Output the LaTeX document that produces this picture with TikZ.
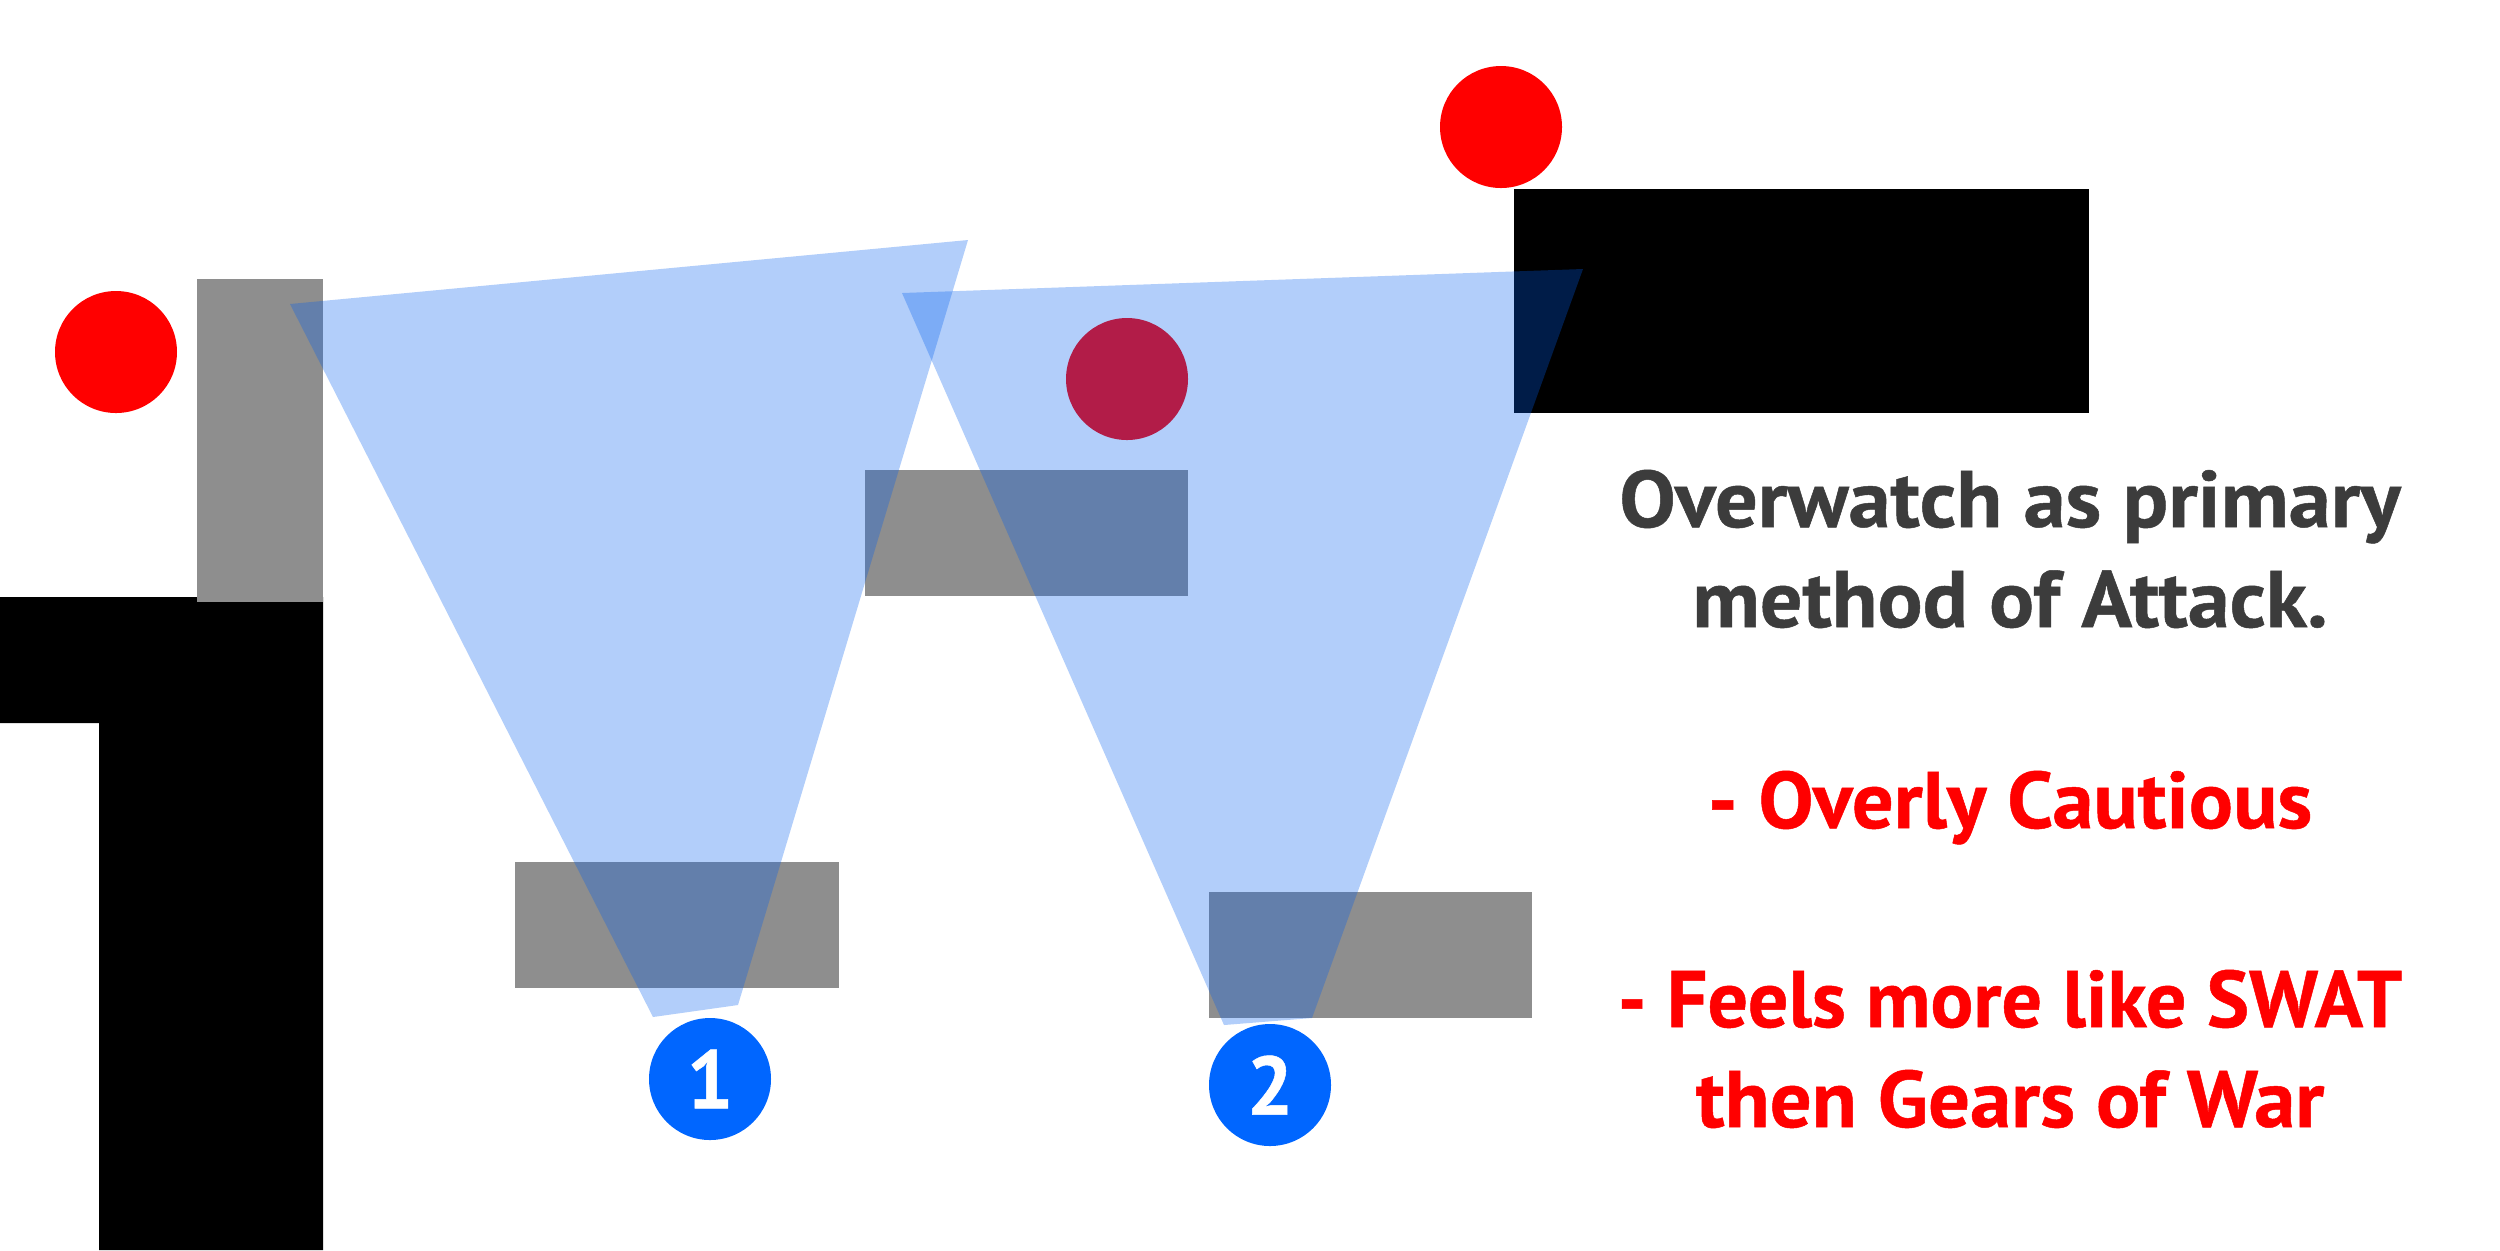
\documentclass[tikz,border=0pt]{standalone}
\usepackage{fontspec}
\setmainfont{PT Sans}[BoldFeatures={FakeBold=0.6}]
\definecolor{wallgray}{RGB}{142,142,142}
\definecolor{conebase}{RGB}{0,95,240}
\definecolor{badge}{RGB}{0,102,255}
\definecolor{textgray}{RGB}{60,60,60}
\definecolor{alertred}{RGB}{255,0,0}
\newcommand{\fitw}[2]{\resizebox{#1}{\height}{#2}}
\tikzset{
  wall/.style={fill=wallgray, draw=none},
  solid block/.style={fill=black, draw=none},
  enemy/.style={fill=alertred, draw=none},
  cone/.style={fill=conebase, fill opacity=0.3, draw=none},
  badgenode/.style={circle, fill=badge, draw=none, minimum size=122*0.01cm, inner sep=0pt,
    text=white, font=\bfseries\fontsize{23.5}{26}\selectfont},
  headline/.style={anchor=base, inner sep=0pt, text=textgray, font=\bfseries\fontsize{22.8}{26}\selectfont},
  redline/.style={anchor=base, inner sep=0pt, text=alertred, font=\bfseries\fontsize{22.8}{26}\selectfont},
}
\begin{document}
\begin{tikzpicture}[x=0.01cm, y=-0.01cm]
  \useasboundingbox (0,0) rectangle (2500,1250);
  \fill[white] (0,0) rectangle (2500,1250);
  % black structures
  \fill[solid block] (0,597) -- (323,597) -- (323,1250) -- (99,1250) -- (99,723) -- (0,723) -- cycle;
  \fill[solid block] (1514,189) rectangle (2089,413);
  % gray cover walls
  \fill[wall] (197,279) rectangle (323,602);
  \fill[wall] (865,470) rectangle (1188,596);
  \fill[wall] (515,862) rectangle (839,988);
  \fill[wall] (1209,892) rectangle (1532,1018);
  % enemies
  \fill[enemy] (116,352) circle (61);
  \fill[enemy] (1501,127) circle (61);
  \fill[enemy] (1127,379) circle (61);
  % sight cones
  \fill[cone] (290,304) -- (968,240) -- (738,1005) -- (653,1017) -- cycle;
  \fill[cone] (902,293) -- (1583,269) -- (1312,1018) -- (1224,1025) -- cycle;
  % players
  \node[badgenode] (c1) at (710,1079) {1};
  \node[badgenode] (c2) at (1270,1085) {2};
  % text
  \node[headline] (t1) at (2010,527) {\fitw{7.81cm}{Overwatch as primary}};
  \node[headline] (t2) at (2010,627) {\fitw{6.35cm}{method of Attack.}};
  \node[redline] (t3) at (2010,828) {\fitw{6.04cm}{- Overly Cautious}};
  \node[redline] (t4) at (2010,1027) {\fitw{7.84cm}{- Feels more like SWAT}};
  \node[redline] (t5) at (2010,1127) {\fitw{6.28cm}{then Gears of War}};
\end{tikzpicture}
\end{document}
